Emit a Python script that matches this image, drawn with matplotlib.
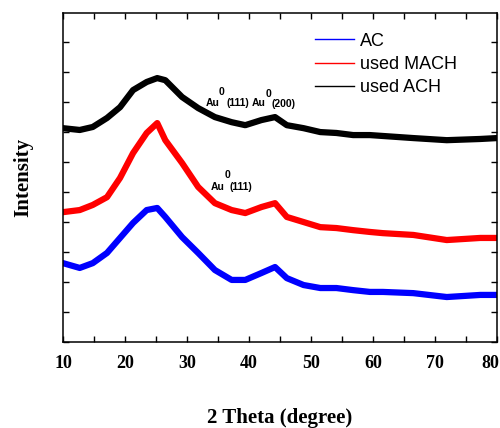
import matplotlib
matplotlib.use("Agg")
import matplotlib.pyplot as plt
from matplotlib.transforms import ScaledTranslation

# 2 theta positions (degree) where the traces were read
theta = [10, 12.7, 14.8, 17.1, 19.2, 21.3, 23.5, 25.2, 26.5, 29.2, 31.8, 34.5,
         37.2, 39.4, 42, 44.2, 46.1, 48.8, 51.5, 54.1, 56.8, 59.5, 61.6, 66.5,
         71.9, 77.3, 80]

# offset intensities (a.u.)
ac = [2.63, 2.47, 2.63, 2.97, 3.47, 3.97, 4.40, 4.47, 4.17, 3.50, 2.97, 2.40,
      2.07, 2.07, 2.30, 2.50, 2.13, 1.90, 1.80, 1.80, 1.73, 1.67, 1.67, 1.63,
      1.50, 1.57, 1.57]
used_mach = [4.33, 4.40, 4.57, 4.83, 5.47, 6.30, 6.97, 7.30, 6.73, 5.97, 5.17,
             4.63, 4.40, 4.30, 4.50, 4.63, 4.17, 4.00, 3.83, 3.80, 3.73, 3.67,
             3.63, 3.57, 3.40, 3.47, 3.47]
used_ach = [7.13, 7.07, 7.17, 7.47, 7.83, 8.40, 8.67, 8.80, 8.73, 8.17, 7.80,
            7.50, 7.33, 7.23, 7.40, 7.50, 7.23, 7.13, 7.00, 6.97, 6.90, 6.90,
            6.87, 6.80, 6.73, 6.77, 6.80]

series = [("AC", ac, "blue"), ("used MACH", used_mach, "red"),
          ("used ACH", used_ach, "black")]

fig = plt.figure(figsize=(5, 4.28), dpi=100)
ax = fig.add_axes([0.126, 0.2009, 0.868, 0.7687])

for name, vals, col in series:
    ax.plot(theta, vals, color=col, lw=4.5, label=name, solid_joinstyle="round")

sans = "Liberation Sans"
serif = "Liberation Serif"

# Au reflections
def note(x, y, s):
    ax.text(x, y, s, fontsize=7.5, fontweight="bold", family=sans, ha="center", va="center")

note(34.2, 7.97, "Au")
note(35.6, 8.33, "0")
note(38.2, 7.97, "(111)")
note(41.5, 7.97, "Au")
note(43.2, 8.27, "0")
note(45.5, 7.93, "(200)")
note(35.0, 5.17, "Au")
note(36.6, 5.57, "0")
note(38.7, 5.17, "(111)")

ax.set_xlim(10, 80)
ax.set_ylim(0, 10.97)
ax.set_xticks(range(10, 81, 10))
ax.set_xticks(range(15, 80, 10), minor=True)
ax.set_yticks(range(0, 11))
ax.set_yticklabels([])
ax.tick_params(which="both", direction="in", top=True, right=True, length=4, width=1)
ax.tick_params(axis="x", pad=9)
labs = ax.get_xticklabels()
for lab in labs:
    lab.set_fontfamily(serif)
    lab.set_fontweight("bold")
    lab.set_fontsize(13)
# last label sits against the figure edge
labs[-1].set_horizontalalignment("right")
labs[-1].set_transform(labs[-1].get_transform() + ScaledTranslation(2 / 100, 0, fig.dpi_scale_trans))
for sp in ax.spines.values():
    sp.set_linewidth(1.1)

ax.set_xlabel("2 Theta (degree)", family=serif, fontweight="bold", fontsize=15, labelpad=26)
ax.set_ylabel("Intensity", family=serif, fontweight="bold", fontsize=15, labelpad=18)

leg = ax.legend(loc="upper left", bbox_to_anchor=(0.58, 0.94), frameon=False,
                prop={"family": sans, "size": 13}, handlelength=2.2,
                handletextpad=0.3, labelspacing=0.35, borderpad=0, borderaxespad=0)
for h in leg.legend_handles:
    h.set_linewidth(1)

fig.savefig("out.png", dpi=100)
